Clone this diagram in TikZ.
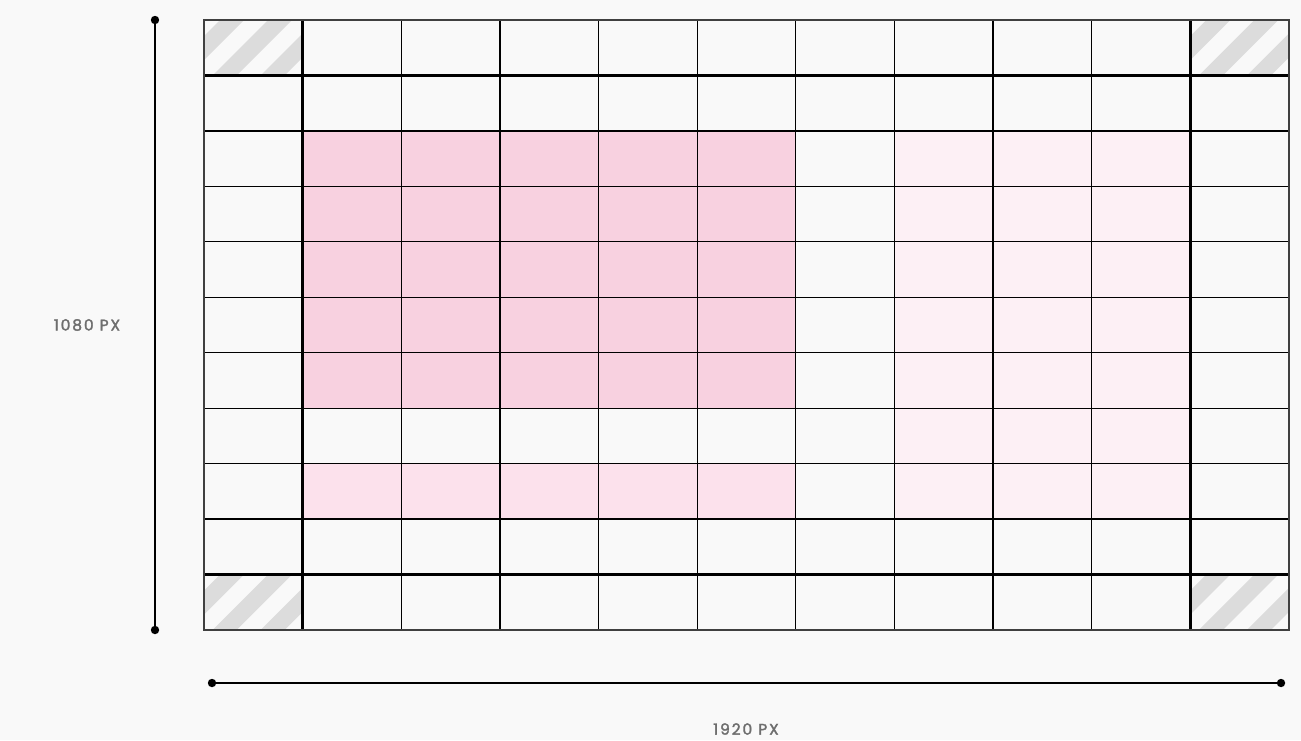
\documentclass[tikz,border=0pt]{standalone}
\usepackage{fontspec}
\newfontfamily\labfont[LetterSpace=12,FakeBold=2]{Poppins}
\definecolor{bgc}{HTML}{F9F9F9}
\definecolor{pinkA}{HTML}{F8D1E0}
\definecolor{pinkB}{HTML}{FCE1EC}
\definecolor{pinkC}{HTML}{FDF0F5}
\definecolor{hatchc}{HTML}{DCDCDC}
\definecolor{labc}{HTML}{6E6E6E}
\tikzset{
  thinline/.style={line width=1.3pt, black},
  thickline/.style={line width=2.4pt, black},
  border/.style={line width=1.2pt, black!75},
  dimline/.style={line width=2.2pt, black},
  dimdot/.style={fill=black},
  lbl/.style={font=\labfont\fontsize{15.5}{17}\selectfont, text=labc, inner sep=0pt},
  hatch/.style={fill=hatchc}
}
\def\cw{98.636}
\def\ch{55.4545}
\begin{document}
\begin{tikzpicture}[x=1pt,y=-1pt]
\fill[bgc] (0,0) rectangle (1301,740);
\useasboundingbox (0,0) rectangle (1301,740);
% coloured blocks
\fill[pinkA] ({204+\cw},{20+2*\ch}) rectangle ({204+6*\cw},{20+7*\ch});
\fill[pinkB] ({204+\cw},{20+8*\ch}) rectangle ({204+6*\cw},{20+9*\ch});
\fill[pinkC] ({204+7*\cw},{20+2*\ch}) rectangle ({204+10*\cw},{20+9*\ch});
% hatched corner cells
\foreach \cx/\cy in {204/20, 1190.36/20, 204/574.55, 1190.36/574.55}{
  \begin{scope}
    \clip (\cx,\cy) rectangle ++(\cw,\ch);
    \foreach \k in {0,...,3}{
      \fill[hatch] ({\cx+16+48*\k},\cy) -- ++(24,0) -- ++(-60,60) -- ++(-24,0) -- cycle;
    }
  \end{scope}
}
% grid lines
\foreach \i in {2,...,9}{
  \draw[thinline] ({204+\i*\cw},20) -- ({204+\i*\cw},630);
  \draw[thinline] (204,{20+\i*\ch}) -- (1289,{20+\i*\ch});
}
\foreach \i in {1,10}{
  \draw[thickline] ({204+\i*\cw},20) -- ({204+\i*\cw},630);
  \draw[thickline] (204,{20+\i*\ch}) -- (1289,{20+\i*\ch});
}
\draw[border] (204,20) rectangle (1289,630);
% dimension lines
\coordinate (vt) at (155,20);
\coordinate (vb) at (155,630);
\coordinate (hl) at (212,683);
\coordinate (hr) at (1281,683);
\draw[dimline] (vt) -- (vb);
\draw[dimline] (hl) -- (hr);
\foreach \p in {vt,vb,hl,hr}{ \fill[dimdot] (\p) circle (4.2); }
% labels
\node[lbl] (hlabel) at (87,325) {1080 PX};
\node[lbl] (wlabel) at (746,729) {1920 PX};
\end{tikzpicture}
\end{document}
